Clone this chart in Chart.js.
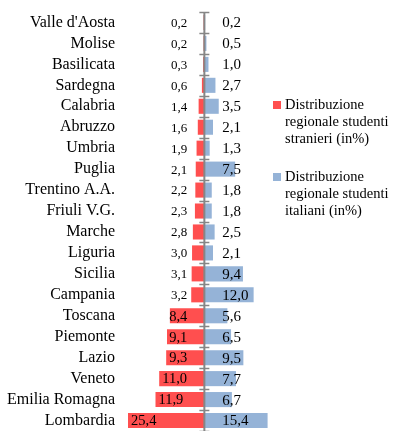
<!DOCTYPE html>
<html>
<head>
<meta charset="utf-8">
<script src="https://cdn.jsdelivr.net/npm/chart.js@4.4.1/dist/chart.umd.min.js"></script>
<style>
  body { margin: 0; background: #fff; }
  #wrap { position: relative; width: 405px; height: 431px; }
  #legend { position: absolute; left: 273px; top: 96px; font-family: 'Liberation Serif', serif; font-size: 14.5px; line-height: 17px; color: #000; }
  .item { display: flex; align-items: flex-start; margin-bottom: 21px; }
  .box { width: 8px; height: 8px; margin-top: 5px; margin-right: 4px; flex: none; }
  .txt { width: 122px; }
</style>
</head>
<body>
<div id="wrap">
  <canvas id="myChart" width="405" height="431"></canvas>
  <div id="legend"></div>
</div>
<script>
const regions = ["Valle d'Aosta", 'Molise', 'Basilicata', 'Sardegna', 'Calabria', 'Abruzzo', 'Umbria',
  'Puglia', 'Trentino A.A.', 'Friuli V.G.', 'Marche', 'Liguria', 'Sicilia', 'Campania', 'Toscana',
  'Piemonte', 'Lazio', 'Veneto', 'Emilia Romagna', 'Lombardia'];
const stranieri = [0.2, 0.2, 0.3, 0.6, 1.4, 1.6, 1.9, 2.1, 2.2, 2.3, 2.8, 3.0, 3.1, 3.2, 8.4, 9.1, 9.3, 11.0, 11.9, 25.4];
const italiani = [0.2, 0.5, 1.0, 2.7, 3.5, 2.1, 1.3, 7.5, 1.8, 1.8, 2.5, 2.1, 9.4, 12.0, 5.6, 6.5, 9.5, 7.7, 6.7, 15.4];
const labelStranieri = 'Distribuzione regionale studenti stranieri (in%)';
const labelItaliani = 'Distribuzione regionale studenti italiani (in%)';
const red = '#FF4F4F';
const blue = '#95B3D7';

function fmt(v) { return v.toFixed(1).replace('.', ','); }

// centre axis with small cross ticks between the regions
const centreAxis = {
  id: 'centreAxis',
  afterDatasetsDraw(chart) {
    const { ctx, chartArea, scales } = chart;
    const x0 = scales.x.getPixelForValue(0);
    const step = (chartArea.bottom - chartArea.top) / regions.length;
    ctx.save();
    ctx.strokeStyle = '#868686';
    ctx.lineWidth = 2;
    ctx.beginPath();
    ctx.moveTo(x0, chartArea.top);
    ctx.lineTo(x0, chartArea.bottom);
    ctx.stroke();
    ctx.lineWidth = 1.5;
    for (let i = 0; i <= regions.length; i++) {
      const y = Math.round(chartArea.top + i * step) + 0.5;
      ctx.beginPath();
      ctx.moveTo(x0 - 5, y);
      ctx.lineTo(x0 + 5, y);
      ctx.stroke();
    }
    ctx.restore();
  }
};

const valueLabels = {
  id: 'valueLabels',
  afterDraw(chart) {
    const { ctx, chartArea, scales } = chart;
    const x0 = scales.x.getPixelForValue(0);
    ctx.save();
    ctx.fillStyle = '#000';
    ctx.textBaseline = 'middle';
    chart.getDatasetMeta(0).data.forEach((bar, i) => {
      const v = stranieri[i];
      ctx.font = (v < 5 ? '13px' : '14.5px') + " 'Liberation Serif', serif";
      const t = fmt(v);
      const w = ctx.measureText(t).width;
      const left = Math.max(chartArea.left, bar.x);
      const right = Math.min(x0 - 17, left + w + 3);
      ctx.textAlign = 'right';
      ctx.fillText(t, right, bar.y + 1);
    });
    ctx.font = "15px 'Liberation Serif', serif";
    chart.getDatasetMeta(1).data.forEach((bar, i) => {
      ctx.textAlign = 'left';
      ctx.fillText(fmt(italiani[i]), x0 + 18, bar.y + 1);
    });
    ctx.restore();
  }
};

const ctx = document.getElementById('myChart').getContext('2d');
const myChart = new Chart(ctx, {
  type: 'bar',
  data: {
    labels: regions,
    datasets: [
      { label: labelStranieri, data: stranieri.map(v => -v), backgroundColor: red },
      { label: labelItaliani, data: italiani, backgroundColor: blue }
    ]
  },
  options: {
    indexAxis: 'y',
    responsive: false,
    animation: false,
    events: [],
    layout: { padding: { top: 12, right: 137, bottom: 0, left: 0 } },
    datasets: { bar: { barPercentage: 0.72, categoryPercentage: 1 } },
    scales: {
      x: { stacked: true, display: false, min: -18.6, max: 15.5 },
      y: {
        stacked: true,
        grid: { display: false, drawTicks: false },
        border: { display: false },
        afterFit(scale) {
          scale.width = 128;
          scale.paddingTop = 0;
          scale.paddingBottom = 0;
        },
        ticks: {
          autoSkip: false,
          padding: 13,
          color: '#000',
          font: { family: "'Liberation Serif', serif", size: 16 }
        }
      }
    },
    plugins: { legend: { display: false }, tooltip: { enabled: false } }
  },
  plugins: [centreAxis, valueLabels]
});

// legend to the right, built from the datasets
const legend = document.getElementById('legend');
myChart.data.datasets.forEach(ds => {
  const item = document.createElement('div');
  item.className = 'item';
  item.innerHTML = '<div class="box" style="background:' + ds.backgroundColor + '"></div><div class="txt">' + ds.label + '</div>';
  legend.appendChild(item);
});
</script>
</body>
</html>
